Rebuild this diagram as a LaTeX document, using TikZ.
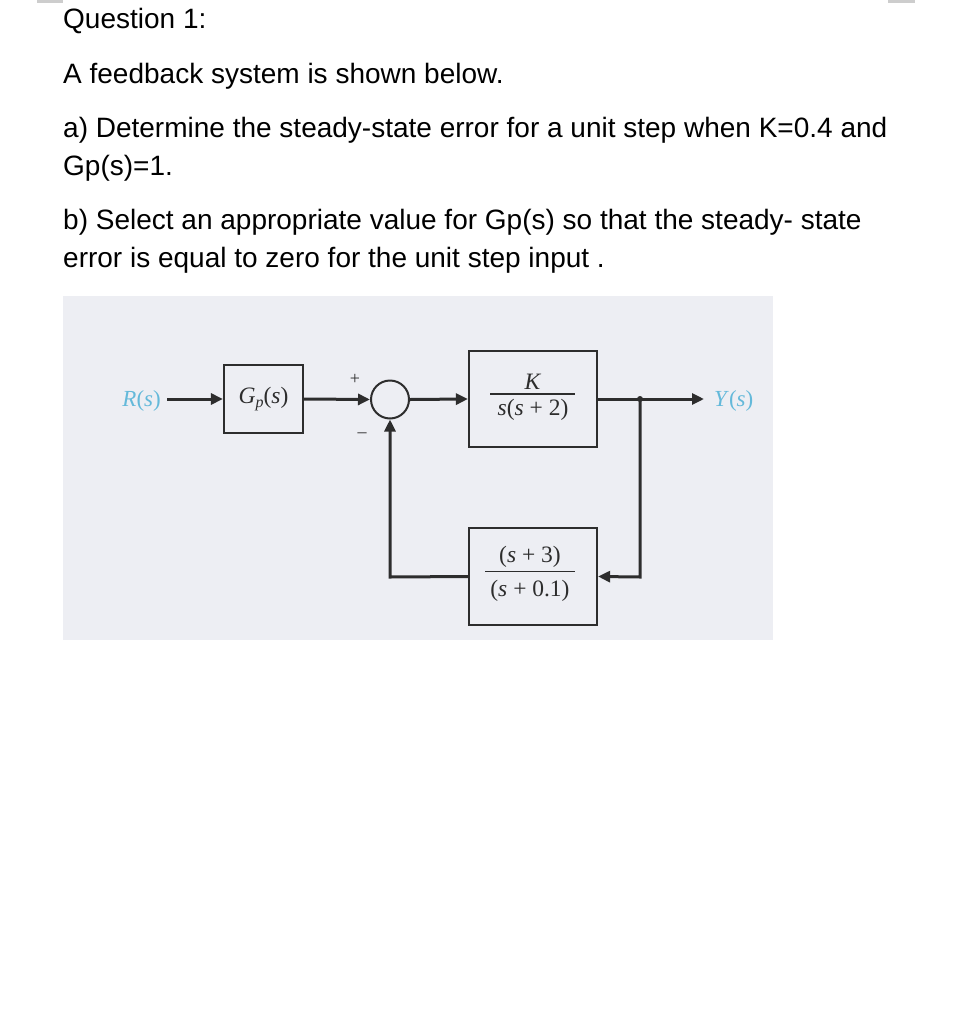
\documentclass[tikz,border=0pt]{standalone}
\usepackage{fontspec}
\setmainfont{Liberation Sans}
\newfontfamily\df{Liberation Serif}
\usetikzlibrary{arrows.meta,calc}
\definecolor{bgpanel}{RGB}{237,238,243}
\definecolor{lbl}{RGB}{100,185,218}
\definecolor{ink}{RGB}{45,45,45}
\definecolor{markgray}{RGB}{205,205,205}
\newcommand\vs{\textit{s}}
\begin{document}
\begin{tikzpicture}[x=1pt,y=-1pt,
  qtext/.style={anchor=base west,inner sep=0pt,font=\fontsize{28}{33}\selectfont,text=black},
  blk/.style={draw=ink,line width=2.2pt,fill=bgpanel,inner sep=0pt},
  sumnode/.style={draw=ink,line width=2pt,circle,minimum size=38pt,inner sep=0pt,fill=bgpanel},
  sig/.style={draw=ink,line width=3pt,-{Triangle[length=12pt,width=11pt]}},
  wire/.style={draw=ink,line width=3pt},
  frule/.style={draw=ink,line width=1.3pt},
  mlbl/.style={inner sep=0pt,font=\df\fontsize{23.5}{26}\selectfont,text=ink},
  io/.style={inner sep=0pt,font=\df\fontsize{23}{26}\selectfont,text=lbl},
  sgn/.style={inner sep=0pt,font=\df\fontsize{18}{18}\selectfont,text=ink}]
\useasboundingbox (0,0) rectangle (969,1023);
\fill[white] (0,0) rectangle (969,1023);
\fill[markgray] (37,0) rectangle (63,2.5);
\fill[markgray] (888,0) rectangle (915,2.5);
% question text
\node[qtext] (q1) at (63,28) {Question 1:};
\node[qtext] (q2) at (63,83) {A feedback system is shown below.};
\node[qtext] (q3) at (63,137) {a) Determine the steady-state error for a unit step when K=0.4 and};
\node[qtext] (q4) at (63,175) {Gp(s)=1.};
\node[qtext] (q5) at (63,229) {b) Select an appropriate value for Gp(s) so that the steady- state};
\node[qtext] (q6) at (63,267) {error is equal to zero for the unit step input .};
% panel
\fill[bgpanel] (63,296) rectangle (773,640);
% blocks
\node[blk,minimum width=79pt,minimum height=68pt] (gp) at (263.5,399) {};
\node[mlbl] (gpl) at (gp) {\textit{G}\raisebox{-0.3ex}{\fontsize{16}{16}\selectfont\textit{p}}(\vs)};
\node[sumnode] (sum) at (390,399.5) {};
\node[blk,minimum width=128pt,minimum height=96pt] (plant) at (533,399) {};
\node[mlbl] (pnum) at ($(plant.center)+(0,-17)$) {\textit{K}};
\draw[frule] ($(plant.center)+(-43,-5)$) -- ($(plant.center)+(42,-5)$);
\node[mlbl] (pden) at ($(plant.center)+(0,11)$) {\vs(\vs\ + 2)};
\node[blk,minimum width=128pt,minimum height=97pt] (fb) at (533,576.5) {};
\node[mlbl] (fnum) at ($(fb.center)+(-3,-20)$) {(\vs\ + 3)};
\draw[frule] ($(fb.center)+(-48,-5)$) -- ($(fb.center)+(42,-5)$);
\node[mlbl] (fden) at ($(fb.center)+(-3,14)$) {(\vs\ + 0.1)};
\node[io,anchor=east] (r) at (161,401) {\textit{R}(\vs)};
\node[io,anchor=west] (y) at (714,401) {\textit{Y}(\vs)};
\node[sgn] (plus) at (355,379) {+};
\node[sgn] (minus) at (362,435) {\textendash};
\coordinate (rs) at (167,399);
\coordinate (ye) at (704,399);
\coordinate (br) at (640,399);
\coordinate (brd) at (640,577);
\coordinate (fbl) at (390,577);
% connectors
\draw[sig] (rs) -- (gp.west);
\draw[sig] (gp.east) -- (sum.west);
\draw[sig] (sum.east) -- (plant.west);
\draw[wire] (plant.east) -- (br);
\draw[sig] (br) -- (ye);
\fill[ink] (br) circle (3pt);
\draw[sig] (br) -- (brd) -- (fb.east);
\draw[sig] (fb.west) -- (fbl) -- (sum.south);
\end{tikzpicture}
\end{document}
